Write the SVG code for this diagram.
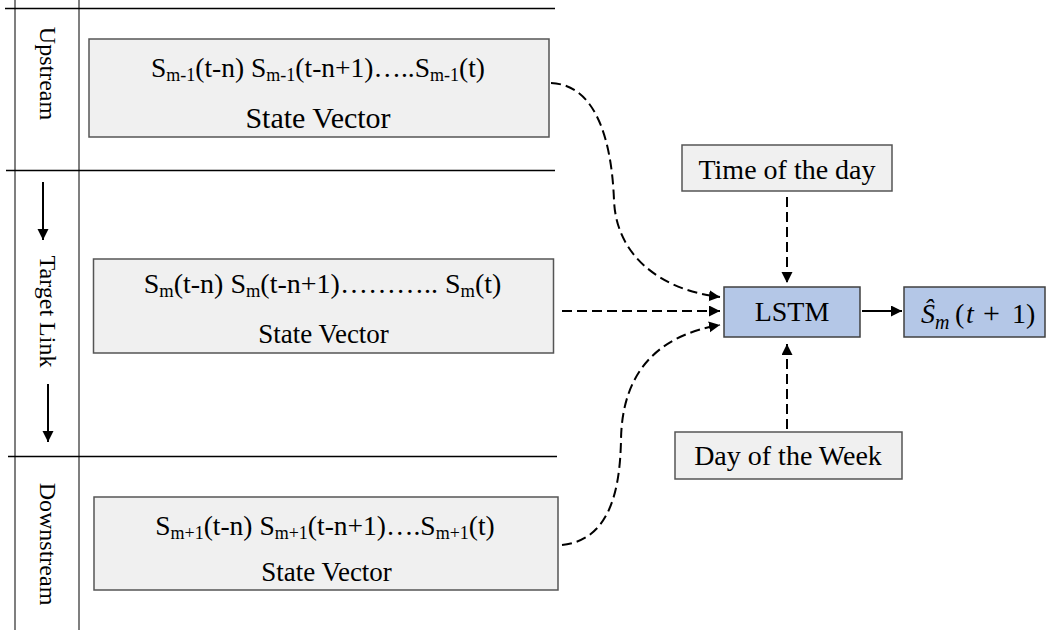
<svg xmlns="http://www.w3.org/2000/svg" width="1047" height="630" viewBox="0 0 1047 630">
  <defs>
    <style>
      text { font-family: "Liberation Serif", "Times New Roman", serif; fill: #000; }
      .rule { stroke: #000; stroke-width: 1.5; fill: none; }
      .col { stroke: #555; stroke-width: 1.5; fill: none; }
      .box { fill: #f0f0f0; stroke: #555; stroke-width: 1.5; }
      .blue { fill: #b4c7e7; stroke: #404040; stroke-width: 1.5; }
      .dash { stroke: #000; stroke-width: 2; fill: none; stroke-dasharray: 10 5; }
      .solid { stroke: #000; stroke-width: 2; fill: none; }
      .side { font-size: 24px; }
      .lbl { font-size: 28px; text-anchor: middle; }
    </style>
    <marker id="arrow" markerUnits="userSpaceOnUse" markerWidth="12" markerHeight="12" refX="11" refY="5.5" orient="auto">
      <path d="M0,0 L11,5.5 L0,11 z" fill="#000"/>
    </marker>
  </defs>

  <!-- table frame on the left -->
  <g id="table">
    <line class="col" x1="15" y1="0" x2="15" y2="630"/>
    <line class="col" x1="79" y1="0" x2="79" y2="630"/>
    <line class="rule" x1="5" y1="8.5" x2="555" y2="8.5"/>
    <line class="rule" x1="6" y1="170.5" x2="555" y2="170.5"/>
    <line class="rule" x1="8" y1="456.5" x2="557" y2="456.5"/>
    <text class="side" text-anchor="middle" transform="translate(40,73.5) rotate(90)">Upstream</text>
    <text class="side" text-anchor="middle" transform="translate(40,311.5) rotate(90)">Target Link</text>
    <text class="side" text-anchor="middle" transform="translate(40,544) rotate(90)">Downstream</text>
    <line class="solid" x1="43" y1="182" x2="43" y2="240" marker-end="url(#arrow)"/>
    <line class="solid" x1="48" y1="384" x2="48" y2="442" marker-end="url(#arrow)"/>
  </g>

  <g id="upstream">
    <rect class="box" x="89" y="39" width="460" height="98"/>
    <text x="318" y="77" font-size="27.5" text-anchor="middle">S<tspan font-size="18" dy="4">m-1</tspan><tspan dy="-4">(t-n) S</tspan><tspan font-size="18" dy="4">m-1</tspan><tspan dy="-4">(t-n+1)…..S</tspan><tspan font-size="18" dy="4">m-1</tspan><tspan dy="-4">(t)</tspan></text>
    <text x="318" y="128" font-size="30" text-anchor="middle">State Vector</text>
  </g>

  <g id="target">
    <rect class="box" x="93.5" y="259" width="460" height="94"/>
    <text x="322.5" y="293" font-size="28" text-anchor="middle">S<tspan font-size="18.5" dy="4">m</tspan><tspan dy="-4">(t-n) S</tspan><tspan font-size="18.5" dy="4">m</tspan><tspan dy="-4">(t-n+1)……….. S</tspan><tspan font-size="18.5" dy="4">m</tspan><tspan dy="-4">(t)</tspan></text>
    <text x="323.5" y="343" font-size="27" text-anchor="middle">State Vector</text>
  </g>

  <g id="downstream">
    <rect class="box" x="94" y="497" width="464" height="93"/>
    <text x="325" y="535" font-size="27.5" text-anchor="middle">S<tspan font-size="18" dy="4">m+1</tspan><tspan dy="-4">(t-n) S</tspan><tspan font-size="18" dy="4">m+1</tspan><tspan dy="-4">(t-n+1)….S</tspan><tspan font-size="18" dy="4">m+1</tspan><tspan dy="-4">(t)</tspan></text>
    <text x="326.5" y="581" font-size="27" text-anchor="middle">State Vector</text>
  </g>

  <g id="time-of-day">
    <rect class="box" x="682" y="145" width="210" height="46"/>
    <text class="lbl" x="787" y="179">Time of the day</text>
  </g>

  <g id="lstm">
    <rect class="blue" x="724" y="287" width="136" height="50"/>
    <text class="lbl" x="792" y="321">LSTM</text>
  </g>

  <g id="output">
    <rect class="blue" x="904" y="287" width="141" height="50"/>
    <text y="323" font-size="28"><tspan x="921" font-style="italic">Ŝ</tspan><tspan x="935" font-style="italic" font-size="20" dy="6">m</tspan><tspan x="955" dy="-6">(</tspan><tspan x="966" font-style="italic">t</tspan><tspan x="983" font-size="30">+</tspan><tspan x="1012">1)</tspan></text>
  </g>

  <g id="day-of-week">
    <rect class="box" x="675" y="432" width="227" height="47"/>
    <text class="lbl" x="788" y="465">Day of the Week</text>
  </g>

  <g id="connectors">
    <path class="dash" d="M551,83 C600,85 612,150 614,200 C616,255 660,290 720,297" marker-end="url(#arrow)"/>
    <path class="dash" d="M562,311 L720,311" marker-end="url(#arrow)"/>
    <path class="dash" d="M562,545 C610,540 620,490 621,440 C622,370 660,335 720,325" marker-end="url(#arrow)"/>
    <path class="dash" d="M787,197 L787,283" marker-end="url(#arrow)"/>
    <path class="dash" d="M787,429 L787,344" marker-end="url(#arrow)"/>
    <path class="solid" d="M862,311 L902,311" marker-end="url(#arrow)"/>
  </g>
</svg>
